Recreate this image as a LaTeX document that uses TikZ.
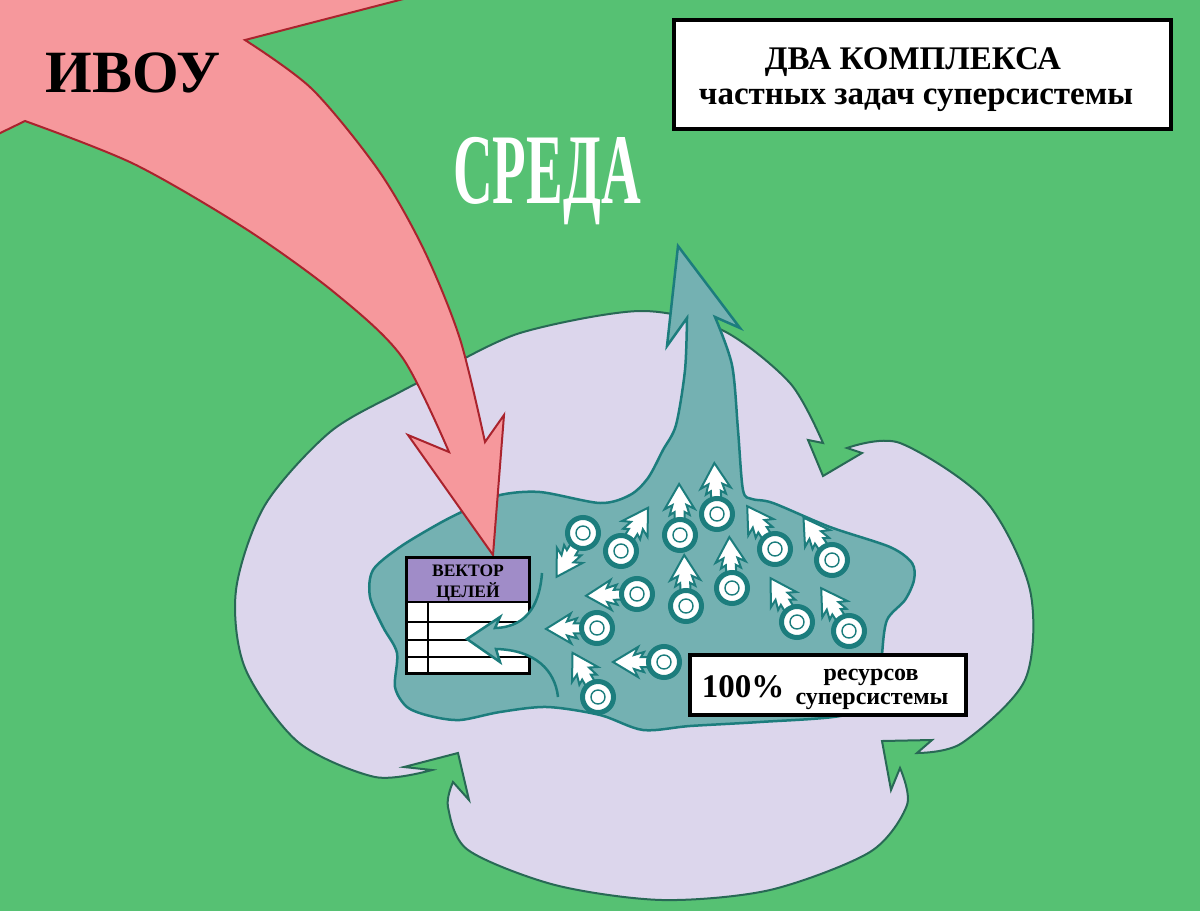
\documentclass[tikz,border=0pt]{standalone}
\usepackage{fontspec}
\setmainfont{Liberation Serif}
\definecolor{bg}{RGB}{86,193,115}
\definecolor{pinkf}{RGB}{246,152,156}
\definecolor{pinkd}{RGB}{170,35,45}
\definecolor{lav}{RGB}{220,214,236}
\definecolor{cloudline}{RGB}{40,105,85}
\definecolor{tealf}{RGB}{116,177,178}
\definecolor{teald}{RGB}{28,125,125}
\definecolor{purp}{RGB}{160,140,200}
\tikzset{
  pinkarrow/.style={fill=pinkf},
  pinkedge/.style={draw=pinkd,line width=2,line join=miter},
  cloudshape/.style={fill=lav,draw=cloudline,line width=2},
  blobshape/.style={fill=tealf,draw=teald,line width=2.5},
  parrow/.style={fill=white,draw=teald,line width=2,line join=miter},
  pring/.style={fill=white,draw=teald,line width=5},
  pinner/.style={draw=teald,line width=1.4},
  boxnode/.style={draw=black,fill=white,line width=4,inner sep=0,outer sep=0},
  txt/.style={anchor=base,inner sep=0,text=black}
}
\newcommand\prtcl[3]{%
  \begin{scope}[shift={(#1,#2)},rotate=#3]
    \filldraw[parrow] (14,5) -- (23,5) -- (20,10) -- (30,7) -- (26,15) -- (51,0)
      -- (26,-15) -- (30,-7) -- (20,-10) -- (23,-5) -- (14,-5) -- cycle;
  \end{scope}
  \filldraw[pring] (#1,#2) circle[radius=15.5];
  \draw[pinner] (#1,#2) circle[radius=7];
}
\begin{document}
\begin{tikzpicture}[x=1pt,y=-1pt]
\useasboundingbox (0,0) rectangle (1200,911);
\fill[bg] (0,0) rectangle (1200,911);

% cloud (system boundary)
\path[cloudshape] plot[smooth] coordinates {(440,372) (520,333) (640,311) (722,330) (790,383) (823,443)}
  -- (808,440) -- (823,476) -- (862,453) -- (847,448)
  -- plot[smooth] coordinates {(847,448) (900,443) (985,500) (1030,590) (1025,680) (962,743) (917,753)}
  -- (932,740) -- (882,741) -- (891,790) -- (900,768)
  -- plot[smooth] coordinates {(900,768) (907,805) (870,852) (770,890) (662,900) (555,885) (468,850) (448,807) (453,782)}
  -- (469,800) -- (458,753) -- (404,767) -- (432,770)
  -- plot[smooth] coordinates {(432,770) (375,777) (298,742) (245,668) (236,590) (265,505) (330,432) (400,392) (440,372)}
  -- cycle;

% teal blob with the upward arrow
\path[blobshape] (678,246) -- (740,328) -- (715,317)
  -- plot[smooth] coordinates {(715,317) (732,365) (738,430) (743,490) (752,499) (773,503) (830,527) (890,547) (912,563) (914,580) (905,600) (887,620) (882,655) (880,700) (840,716) (760,722) (690,726) (643,730) (600,715) (547,707) (500,712) (460,720) (430,716) (407,707) (395,687) (397,653) (383,627) (370,597) (373,570) (400,547) (440,523) (470,508) (500,495) (540,492) (600,503) (630,495) (648,478) (663,450) (676,425) (685,370) (687,318)}
  -- (667,346) -- cycle;

% pink arrow (IVOU)
\fill[pinkarrow] (415,-4) -- (245,40) -- plot[smooth] coordinates {(245,40) (312,89) (379,171) (424,250) (460,339) (485,442)}
  -- (504,415) -- (493,555) -- (408,435) -- (449,452)
  -- plot[smooth] coordinates {(449,452) (402,357) (335,293) (246,229) (134,164) (25,121)}
  -- (-10,138) -- (-10,-10) -- cycle;
\draw[pinkedge] (415,-4) -- (245,40) -- plot[smooth] coordinates {(245,40) (312,89) (379,171) (424,250) (460,339) (485,442)}
  -- (504,415) -- (493,555) -- (408,435) -- (449,452)
  -- plot[smooth] coordinates {(449,452) (402,357) (335,293) (246,229) (134,164) (25,121)}
  -- (-10,138);

% vector of goals table
\node[boxnode,line width=3,minimum width=123,minimum height=116] (vb) at (468,615.5) {};
\fill[purp] (406.5,557.5) rectangle (529.5,602);
\draw[line width=2] (406.5,602) -- (529.5,602);
\draw[line width=1.5] (406.5,622) -- (529.5,622) (406.5,640) -- (529.5,640) (406.5,657) -- (529.5,657) (428,602) -- (428,673.5);
\draw[line width=3] (vb.north west) rectangle (vb.south east);
\node[txt,font=\fontsize{17.5}{17.5}\selectfont\bfseries] (vt1) at (468,576) {ВЕКТОР};
\node[txt,font=\fontsize{17.5}{17.5}\selectfont\bfseries] (vt2) at (468,597) {ЦЕЛЕЙ};

% teal arrow into the table
\fill[tealf] (542,573) .. controls (540,600) and (530,627) .. (495,628) -- (500,617) -- (467,639) -- (500,662) -- (496,649)
  .. controls (535,650) and (555,670) .. (558,697) -- (562,640) -- cycle;
\draw[teald,line width=2.5,line join=miter] (542,573) .. controls (540,600) and (530,627) .. (495,628) -- (500,617) -- (467,639) -- (500,662) -- (496,649)
  .. controls (535,650) and (555,670) .. (558,697);

% particles
\prtcl{583}{533}{-121}
\prtcl{621}{551}{58}
\prtcl{680}{535}{91}
\prtcl{717}{514}{93}
\prtcl{775}{549}{123}
\prtcl{832}{560}{124}
\prtcl{637}{594}{182}
\prtcl{686}{606}{92}
\prtcl{732}{588}{93}
\prtcl{797}{622}{121}
\prtcl{849}{631}{123}
\prtcl{597}{628}{181}
\prtcl{664}{662}{180}
\prtcl{598}{697}{120}

% 100% box
\node[boxnode,minimum width=276,minimum height=60] (rb) at (828,685) {};
\node[txt,font=\fontsize{33}{33}\selectfont\bfseries] (r1) at (743,697) {100\%};
\node[txt,font=\fontsize{24}{24}\selectfont\bfseries] (r2) at (871,680) {ресурсов};
\node[txt,font=\fontsize{24}{24}\selectfont\bfseries] (r3) at (872,704) {суперсистемы};

% title box
\node[boxnode,minimum width=497,minimum height=109] (tb) at (922.5,74.5) {};
\node[txt,font=\fontsize{33}{33}\selectfont\bfseries] (t1) at (913,69) {ДВА КОМПЛЕКСА};
\node[txt,font=\fontsize{33}{33}\selectfont\bfseries] (t2) at (916,104) {частных задач суперсистемы};

% labels
\node[txt,font=\fontsize{60}{60}\selectfont\bfseries] (ivou) at (133,92) {ИВОУ};
\node[txt,text=white,font=\fontsize{100}{100}\selectfont\bfseries] (sreda) at (547,203) {\scalebox{0.55}[1]{СРЕДА}};
\end{tikzpicture}
\end{document}
